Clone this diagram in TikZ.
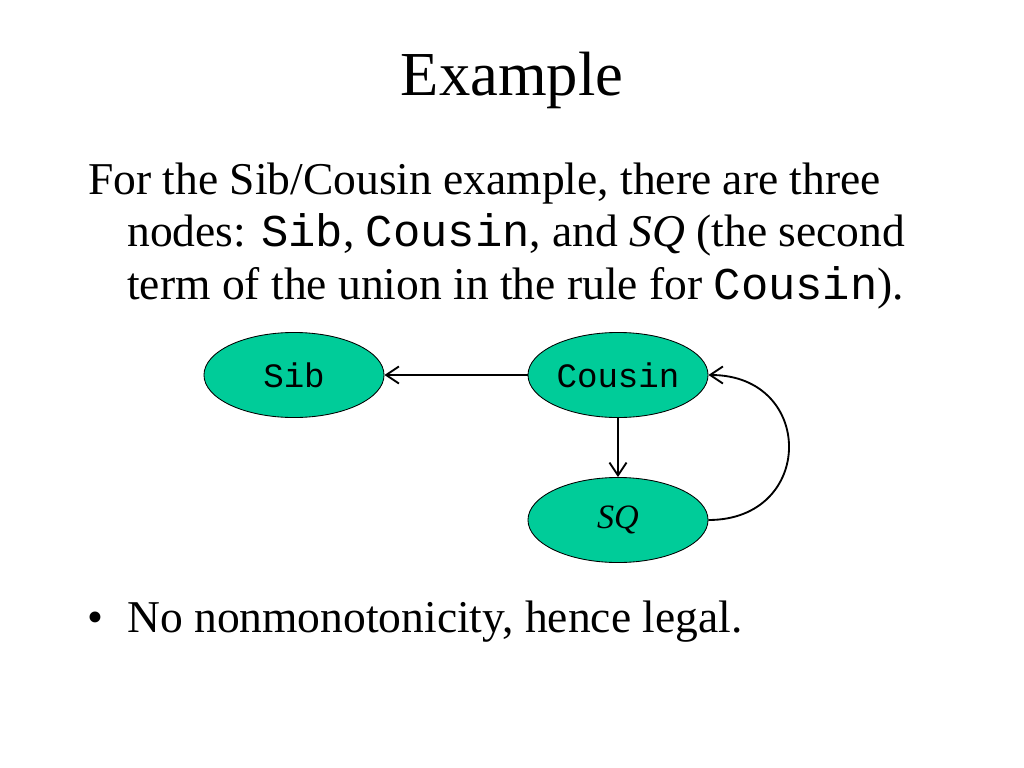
\documentclass[tikz,border=0pt]{standalone}
\usepackage{fontspec}
\setmainfont{Liberation Serif}
\setmonofont{Liberation Mono}
\usetikzlibrary{positioning, shapes.geometric, arrows.meta}
\definecolor{nodegreen}{RGB}{0,204,153}

\begin{document}
\begin{tikzpicture}[x=0.7031pt, y=-0.7031pt,
    graphnode/.style={ellipse, draw=black, line width=0.6pt, fill=nodegreen, minimum width=126.6pt, minimum height=59.8pt, inner sep=0pt, font=\fontsize{24}{28}\selectfont},
    bodyline/.style={anchor=base west, inner sep=0pt, font=\fontsize{32}{38}\selectfont},
    link/.style={-{Straight Barb[length=9pt,width=12pt,line width=1.3pt]}, line width=1.3pt}]
      \useasboundingbox (0,0) rectangle (1024,768);

      \node[anchor=base, inner sep=0pt, font=\fontsize{44}{53}\selectfont] (title) at (512,95) {Example};

      \node[bodyline] (line1) at (88,194) {For the Sib/Cousin example, there are three};
      \node[bodyline] (line2) at (127,246) {nodes: \texttt{Sib}, \texttt{Cousin}, and \textit{SQ} (the second};
      \node[bodyline] (line3) at (127,299) {term of the union in the rule for \texttt{Cousin}).};

      \node[bodyline] (bullet) at (87,632) {\textbullet};
      \node[bodyline] (line4) at (127,632) {No nonmonotonicity, hence legal.};

      \node[graphnode] (Sib) at (294,375) {\texttt{Sib}};
      \node[graphnode] (Cousin) at (618,375) {\texttt{Cousin}};
      \node[graphnode] (SQ) at (618,520) {\textit{SQ}};

      \draw[link] (Cousin) -- (Sib);
      \draw[link] (Cousin) -- (SQ);
      \draw[link] (SQ.east) .. controls +(107,0) and +(107,0) .. (Cousin.east);
    \end{tikzpicture}
\end{document}
